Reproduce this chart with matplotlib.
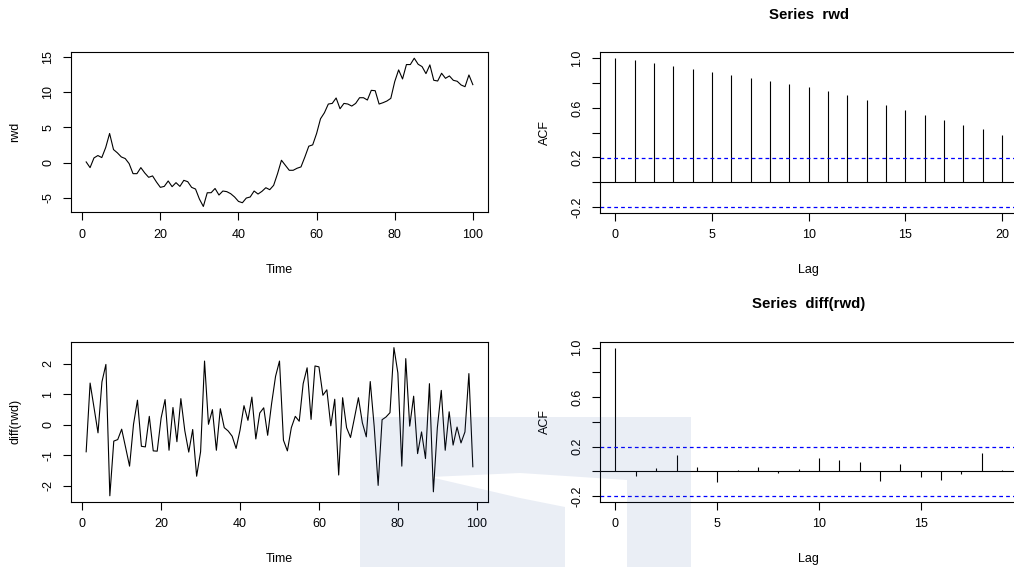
import numpy as np
import matplotlib.pyplot as plt
from matplotlib.patches import Polygon

plt.rcParams['font.family'] = ['Liberation Sans', 'DejaVu Sans']
plt.rcParams['font.size'] = 9
plt.rcParams['axes.unicode_minus'] = False

# === data ===
rwd = [0.09, -0.72, 0.66, 1.0, 0.71, 2.14, 4.14, 1.85, 1.38, 0.8,
       0.57, -0.15, -1.58, -1.58, -0.72, -1.48, -2.1, -1.9, -2.77, -3.53,
       -3.39, -2.62, -3.43, -2.86, -3.39, -2.53, -2.72, -3.53, -3.77, -5.2,
       -6.25, -4.3, -4.29, -3.69, -4.62, -4.05, -4.14, -4.43, -4.9, -5.53,
       -5.72, -5.05, -4.9, -4.05, -4.48, -4.1, -3.58, -3.86, -3.24, -1.58,
       0.33, -0.39, -1.1, -1.1, -0.81, -0.62, 0.8, 2.33, 2.52, 4.14,
       6.23, 7.09, 8.33, 8.42, 9.19, 7.66, 8.42, 8.33, 8.04, 8.42,
       9.23, 9.23, 8.9, 10.28, 10.23, 8.33, 8.52, 8.76, 9.14, 11.52,
       13.19, 11.9, 13.95, 13.95, 14.85, 13.99, 13.66, 12.66, 13.9, 11.71,
       11.61, 12.71, 11.99, 12.33, 11.71, 11.57, 11.04, 10.8, 12.47, 11.09]

diff_rwd = [-0.88, 1.37, 0.56, -0.26, 1.41, 1.98, -2.32, -0.53, -0.48, -0.14,
            -0.74, -1.35, 0.02, 0.81, -0.7, -0.72, 0.28, -0.85, -0.86, 0.23,
            0.83, -0.83, 0.57, -0.55, 0.86, -0.19, -0.89, -0.15, -1.68, -0.88,
            2.09, 0.02, 0.5, -0.83, 0.53, -0.09, -0.2, -0.37, -0.77, -0.17,
            0.63, 0.15, 0.91, -0.46, 0.39, 0.56, -0.34, 0.7, 1.59, 2.09,
            -0.5, -0.85, -0.09, 0.28, 0.12, 1.35, 1.87, 0.18, 1.93, 1.9,
            0.97, 1.15, -0.03, 0.84, -1.64, 0.89, -0.09, -0.41, 0.23, 0.89,
            0.07, -0.39, 1.42, -0.05, -1.98, 0.17, 0.26, 0.4, 2.53, 1.7,
            -1.35, 2.17, -0.04, 0.94, -0.94, -0.23, -1.1, 1.35, -2.19, -0.1,
            1.13, -0.83, 0.43, -0.66, -0.07, -0.59, -0.23, 1.68, -1.37]

acf_rwd = [1.0, 0.983, 0.958, 0.94, 0.915, 0.891, 0.867, 0.843, 0.819, 0.792,
           0.765, 0.736, 0.70, 0.663, 0.623, 0.585, 0.542, 0.505, 0.464, 0.427, 0.381]
acf_diff = [1.0, -0.04, 0.027, 0.135, 0.035, -0.086, 0.013, 0.032, -0.01, 0.016,
            0.11, 0.089, 0.073, -0.078, 0.062, -0.046, -0.067, -0.019, 0.146, 0.008]
ci_rwd = 0.196
ci_diff = 0.197

W, H = 1014, 567
fig = plt.figure(figsize=(W / 100, H / 100), dpi=100)


def add_ax(left, top, right, bottom):
    return fig.add_axes([left / W, 1 - bottom / H, (right - left) / W, (bottom - top) / H])


def r_style(ax, xlabel, ylabel):
    ax.tick_params(direction='out', length=6, width=0.8, pad=6,
                   top=False, right=False)
    for s in ax.spines.values():
        s.set_linewidth(0.8)
    plt.setp(ax.get_yticklabels(), rotation=90, va='center')
    ax.set_xlabel(xlabel)
    ax.set_ylabel(ylabel)
    ax.xaxis.set_label_coords(0.5, -0.36)
    ax.xaxis.label.set_va('center')
    ax.yaxis.set_label_coords(-0.132, 0.5)
    ax.yaxis.label.set_va('center')


def ts_panel(ax, y, yticks, ylabel):
    t = np.arange(1, len(y) + 1)
    ax.plot(t, y, color='black', lw=0.8)
    ax.margins(x=0.04, y=0.04)
    ax.set_xticks([0, 20, 40, 60, 80, 100])
    ax.set_yticks(yticks)
    ax.set_yticklabels([str(v) for v in yticks])
    r_style(ax, 'Time', ylabel)


def acf_panel(ax, acf, ci, title, xticks):
    lags = np.arange(len(acf))
    ax.vlines(lags, 0, acf, color='black', lw=0.8)
    ax.axhline(0, color='black', lw=0.8)
    for c in (ci, -ci):
        ax.axhline(c, color='blue', lw=0.9, ls=(0, (3, 2.5)))
    lo, hi = min(-ci, min(acf)), max(ci, max(acf))
    ax.set_ylim(lo - 0.04 * (hi - lo), hi + 0.04 * (hi - lo))
    n = lags[-1]
    ax.set_xlim(-0.04 * n, n * 1.04)
    ax.set_xticks(xticks)
    yt = [-0.2, 0.0, 0.2, 0.4, 0.6, 0.8, 1.0]
    ax.set_yticks(yt)
    ax.set_yticklabels(['-0.2', '', '0.2', '', '0.6', '', '1.0'])
    ax.set_title(title, fontsize=10.8, fontweight='bold', pad=24)
    r_style(ax, 'Lag', 'ACF')


ax1 = add_ax(70.7, 52.3, 488.3, 212.4)
ts_panel(ax1, rwd, [-5, 0, 5, 10, 15], 'rwd')

ax2 = add_ax(70.7, 341.7, 488.3, 501.7)
ts_panel(ax2, diff_rwd, [-2, -1, 0, 1, 2], 'diff(rwd)')

ax3 = add_ax(600, 52.3, 1017.6, 212.5)
acf_panel(ax3, acf_rwd, ci_rwd, 'Series  rwd', [0, 5, 10, 15, 20])

ax4 = add_ax(600, 341.7, 1017.6, 501.7)
acf_panel(ax4, acf_diff, ci_diff, 'Series  diff(rwd)', [0, 5, 10, 15])

# faint watermark shape at the bottom centre (pixel outline)
wm = [(360, 417), (691, 417), (691, 567), (627, 567), (627, 480), (520, 473),
      (430, 477), (520, 498), (565, 507), (565, 567), (360, 567)]
fig.patches.append(Polygon([(x / W, 1 - y / H) for x, y in wm], closed=True,
                           transform=fig.transFigure, facecolor=(0.2, 0.35, 0.65),
                           edgecolor='none', alpha=0.1, zorder=10))

fig.savefig('out.png', dpi=100)
